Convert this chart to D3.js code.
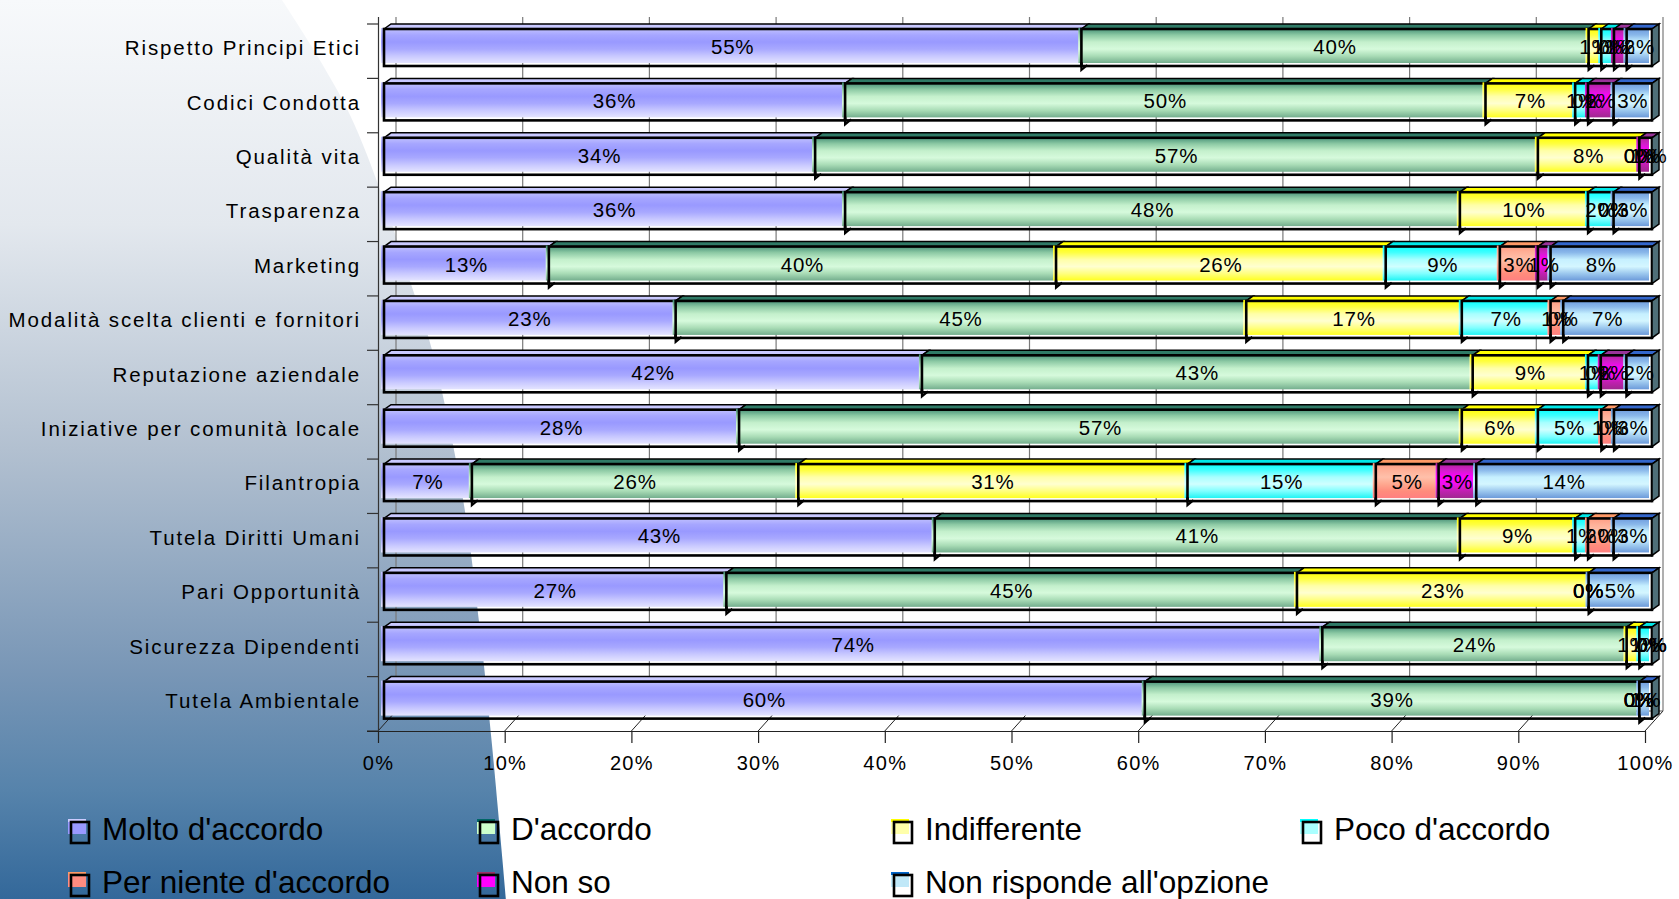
<!DOCTYPE html>
<html>
<head>
<meta charset="utf-8">
<script src="https://cdn.jsdelivr.net/npm/d3@7"></script>
<style>
  html, body { margin: 0; padding: 0; background: #ffffff; }
  svg { display: block; }
  text { font-family: "Liberation Sans", Arial, sans-serif; fill: #000; }
</style>
</head>
<body>
<svg id="chart" width="1679" height="899"></svg>
<script>
// Survey answers, one value per topic (percent of respondents)
const categories = [
  "Rispetto Principi Etici", "Codici Condotta", "Qualità vita", "Trasparenza",
  "Marketing", "Modalità scelta clienti e fornitori", "Reputazione aziendale",
  "Iniziative per comunità locale", "Filantropia", "Tutela Diritti Umani",
  "Pari Opportunità", "Sicurezza Dipendenti", "Tutela Ambientale"
];
const seriesNames = [
  "Molto d'accordo", "D'accordo", "Indifferente", "Poco d'accordo",
  "Per niente d'accordo", "Non so", "Non risponde all'opzione"
];
const molto       = [55, 36, 34, 36, 13, 23, 42, 28,  7, 43, 27, 74, 60];
const daccordo    = [40, 50, 57, 48, 40, 45, 43, 57, 26, 41, 45, 24, 39];
const indiff      = [ 1,  7,  8, 10, 26, 17,  9,  6, 31,  9, 23,  1,  0];
const poco        = [ 1,  1,  0,  2,  9,  7,  1,  5, 15,  1,  0,  1,  0];
const perNiente   = [ 0,  0,  0,  0,  3,  1,  0,  1,  5,  2,  0,  0,  0];
const nonSo       = [ 1,  2,  1,  0,  1,  0,  2,  0,  3,  0,  0,  0,  0];
const nonRisponde = [ 2,  3,  0,  3,  8,  7,  2,  3, 14,  3,  5,  0,  1];
const tickValues  = [0, 0.1, 0.2, 0.3, 0.4, 0.5, 0.6, 0.7, 0.8, 0.9, 1];

const seriesValues = [molto, daccordo, indiff, poco, perNiente, nonSo, nonRisponde];

// face gradients (top -> bottom), top-face colour, legend colours
const styles = [
  { stops: ["#c4c4ff", "#a6a6ff", "#9999ff", "#a8a8ff", "#c8c8ff", "#e4e4ff"], top: "#c9c9ff", lg: "#9999ff", lgTop: "#ccccff" },
  { stops: ["#3f8a72", "#8cc9a4", "#c4f0cc", "#d6fadc", "#a9dcb6", "#74ae8e"], top: "#2f7a66", lg: "#ccffcc", lgTop: "#006666" },
  { stops: ["#ffff00", "#ffff40", "#ffffa8", "#ffffd0", "#ffff80", "#ffff20"], top: "#ffff00", lg: "#ffffaa", lgTop: "#ffff00" },
  { stops: ["#00ffff", "#40ffff", "#a8ffff", "#d0ffff", "#80ffff", "#20f4f4"], top: "#00e8e8", lg: "#aaffff", lgTop: "#00ffff" },
  { stops: ["#ff9a80", "#ffb098", "#ffc0aa", "#ffa890", "#ff8c7c", "#ff8080"], top: "#ff9966", lg: "#ff8c80", lgTop: "#ff9966" },
  { stops: ["#b0209a", "#d020c8", "#ff00ff", "#f010f0", "#c020b0", "#a02890"], top: "#993399", lg: "#ff00ff", lgTop: "#993366" },
  { stops: ["#6a98dc", "#8ab8ea", "#c6f0ff", "#d4f6ff", "#9cc8ee", "#6c9ada"], top: "#3366cc", lg: "#c0e8f8", lgTop: "#0066cc" }
];

const W = 1679, H = 899;
const svg = d3.select("#chart");
const defs = svg.append("defs");

// background panel gradient
const bgGrad = defs.append("linearGradient").attr("id", "bgGrad")
  .attr("x1", 0).attr("y1", 0).attr("x2", 0).attr("y2", 1);
[["0", "#f7f9fb"], ["0.25", "#e3e8ee"], ["0.5", "#b2c0d0"], ["0.75", "#7896b6"], ["0.88", "#5683ab"], ["1", "#33689a"]]
  .forEach(([o, c]) => bgGrad.append("stop").attr("offset", o).attr("stop-color", c));

styles.forEach((s, i) => {
  const g = defs.append("linearGradient").attr("id", "face" + i)
    .attr("x1", 0).attr("y1", 0).attr("x2", 0).attr("y2", 1);
  s.stops.forEach((c, k) => g.append("stop").attr("offset", k / (s.stops.length - 1)).attr("stop-color", c));
});

// curved backdrop on the left
const edge = [[282, 0], [318, 57], [350, 115], [382, 195], [410, 281], [432, 350], [463, 499], [480, 630], [492, 745], [506, 899]];
const edgePath = d3.line().curve(d3.curveCatmullRom)(edge);
svg.append("path")
  .attr("d", "M0,0 L" + edgePath.slice(1) + " L0,899 Z")
  .attr("fill", "url(#bgGrad)");

// geometry of the 3D plot box
const frontY = 731, topY = 17, DX = 18, DY = -20;
const xAxisScale = d3.scaleLinear().domain([0, 1]).range([378, 1645]);
const xBar = d3.scaleLinear().domain([0, 1]).range([384, 1652]);
const yBand = d3.scaleBand().domain(categories).range([24, frontY]).padding(0);
const barOffset = 5, barH = 37, depthX = 7, depthY = -5;

const grid = svg.append("g");
tickValues.forEach(t => {
  const x = xAxisScale(t);
  grid.append("line").attr("x1", x + DX).attr("x2", x + DX).attr("y1", topY).attr("y2", frontY + DY)
    .attr("stroke", "#7a7a7a").attr("stroke-width", 1.2);
  grid.append("line").attr("x1", x).attr("y1", frontY).attr("x2", x + DX).attr("y2", frontY + DY)
    .attr("stroke", "#222").attr("stroke-width", 1);
});
grid.append("line").attr("x1", xAxisScale(0) + DX).attr("x2", xAxisScale(1) + DX)
  .attr("y1", frontY + DY).attr("y2", frontY + DY).attr("stroke", "#555").attr("stroke-width", 1);

// front-left category axis with boundary ticks
grid.append("line").attr("x1", 378.5).attr("x2", 378.5).attr("y1", topY).attr("y2", frontY)
  .attr("stroke", "#333").attr("stroke-width", 1.2);
categories.concat([null]).forEach((c, i) => {
  const y = 24 + i * yBand.step();
  grid.append("line").attr("x1", 367).attr("x2", 379).attr("y1", y).attr("y2", y)
    .attr("stroke", "#333").attr("stroke-width", 1.2);
});

// value axis along the floor front edge
const xAxis = d3.axisBottom(xAxisScale).tickValues(tickValues).tickFormat(d3.format(".0%"))
  .tickSize(12).tickPadding(13);
const gx = svg.append("g").attr("transform", `translate(0,${frontY})`).call(xAxis);
gx.select(".domain").attr("d", `M367,0.5H${xAxisScale(1)}`).attr("stroke", "#222").attr("stroke-width", 1.2);
gx.selectAll(".tick line").attr("stroke", "#222").attr("stroke-width", 1.2);
gx.selectAll(".tick text").attr("font-size", 20).attr("letter-spacing", 1.3)
  .attr("font-family", "'Liberation Sans', Arial, sans-serif").attr("fill", "#000");

// category labels
const yAxis = d3.axisLeft(yBand).tickSize(0).tickPadding(18);
const gy = svg.append("g").attr("transform", "translate(379,0)").call(yAxis);
gy.select(".domain").remove();
gy.selectAll(".tick text").attr("font-size", 20.5).attr("letter-spacing", 1.9)
  .attr("dy", "0.2em")
  .attr("font-family", "'Liberation Sans', Arial, sans-serif").attr("fill", "#000");

// stacked bars, each row normalised to 100%
const rows = categories.map((c, r) => {
  const vals = seriesValues.map(s => s[r]);
  const total = d3.sum(vals);
  let acc = 0;
  return vals.map((v, k) => {
    const x0 = acc / total; acc += v;
    return { cat: c, k, v, x0, x1: acc / total };
  });
});

const bars = svg.append("g");
rows.forEach(segs => {
  const top = yBand(segs[0].cat) + barOffset;
  const bottom = top + barH;
  const g = bars.append("g");
  const visible = segs.filter(s => s.v > 0);
  visible.forEach((s, idx) => {
    const xa = xBar(s.x0), xb = xBar(s.x1);
    // top face
    g.append("path")
      .attr("d", `M${xa},${top} L${xa + depthX},${top + depthY} L${xb + depthX},${top + depthY} L${xb},${top} Z`)
      .attr("fill", styles[s.k].top).attr("stroke", "#000").attr("stroke-width", 1.5);
    // front face (fill slightly offset from its outline)
    g.append("rect").attr("x", xa - 3).attr("y", top - 1).attr("width", xb - xa).attr("height", barH - 2)
      .attr("fill", `url(#face${s.k})`);
    g.append("rect").attr("x", xa).attr("y", top).attr("width", xb - xa).attr("height", barH)
      .attr("fill", "none").attr("stroke", "#000").attr("stroke-width", 2.6);
    if (idx > 0) {
      g.append("path").attr("d", `M${xa},${bottom - 4} L${xa},${bottom + 4} L${xa + 6},${bottom - 1}`)
        .attr("fill", "none").attr("stroke", "#000").attr("stroke-width", 2.2);
    }
  });
  // end side face
  const xe = xBar(1);
  g.append("path")
    .attr("d", `M${xe},${top} L${xe + depthX},${top + depthY} L${xe + depthX},${bottom + depthY} L${xe},${bottom} Z`)
    .attr("fill", "#4f6f78").attr("stroke", "#000").attr("stroke-width", 1.5);
});

// value labels (rounded percentages)
const labels = svg.append("g");
rows.forEach(segs => {
  const cy = yBand(segs[0].cat) + barOffset + barH / 2 - 1;
  segs.forEach(s => {
    labels.append("text")
      .attr("x", (xBar(s.x0) + xBar(s.x1)) / 2)
      .attr("y", cy)
      .attr("text-anchor", "middle")
      .attr("dominant-baseline", "central")
      .attr("font-size", 20.5)
      .attr("letter-spacing", 0.8)
      .text(s.v + "%");
  });
});

// legend: 4 columns, 2 rows
const legCols = [68, 477, 891, 1300];
const legRows = [840, 893];
const legend = svg.append("g");
seriesNames.forEach((name, i) => {
  const x = legCols[i % 4], base = legRows[Math.floor(i / 4)];
  const g = legend.append("g");
  g.append("rect").attr("x", x).attr("y", base - 21).attr("width", 18).attr("height", 15).attr("fill", styles[i].lg);
  g.append("rect").attr("x", x).attr("y", base - 21).attr("width", 18).attr("height", 3).attr("fill", styles[i].lgTop);
  g.append("rect").attr("x", x + 3).attr("y", base - 18).attr("width", 18).attr("height", 21)
    .attr("fill", "none").attr("stroke", "#000").attr("stroke-width", 2.6);
  g.append("text").attr("x", x + 34).attr("y", base).attr("font-size", 31.5).text(name);
});
</script>
</body>
</html>
